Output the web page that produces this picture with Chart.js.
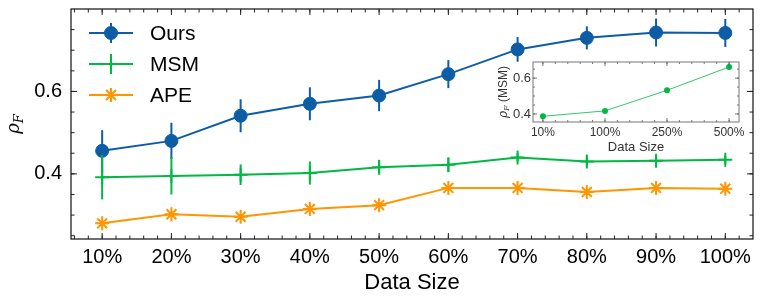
<!DOCTYPE html>
<html>
<head>
<meta charset="utf-8">
<script src="https://cdn.jsdelivr.net/npm/chart.js@4/dist/chart.umd.min.js"></script>
<style>
  html, body { margin: 0; padding: 0; background: #fff; }
  #wrap { position: relative; width: 762px; height: 299px; }
  #mainChart { position: absolute; left: 0; top: 0; }
  #insetChart { position: absolute; left: 490px; top: 58px; }
</style>
</head>
<body>
<div id="wrap">
  <canvas id="mainChart" width="762" height="299"></canvas>
  <canvas id="insetChart" width="260" height="100"></canvas>
</div>
<script>
// Datos del gráfico principal
const dataSizes = [10, 20, 30, 40, 50, 60, 70, 80, 90, 100];
const sizeLabels = ['10%', '20%', '30%', '40%', '50%', '60%', '70%', '80%', '90%', '100%'];
const oursValues = [0.456, 0.480, 0.541, 0.570, 0.590, 0.642, 0.702, 0.730, 0.743, 0.742];
const oursErrors = [0.050, 0.044, 0.040, 0.040, 0.038, 0.034, 0.030, 0.028, 0.034, 0.034];
const msmValues = [0.392, 0.395, 0.398, 0.402, 0.416, 0.422, 0.440, 0.430, 0.432, 0.434];
const msmErrors = [0.054, 0.045, 0.025, 0.028, 0.018, 0.018, 0.010, 0.012, 0.012, 0.010];
const apeValues = [0.280, 0.302, 0.296, 0.315, 0.324, 0.366, 0.366, 0.356, 0.366, 0.364];
const yTickValues = [0.4, 0.6];
const yTickLabels = ['0.4', '0.6'];

// Datos del recuadro (MSM)
const insetSizes = [0, 1, 2, 3];
const insetLabels = ['10%', '100%', '250%', '500%'];
const insetValues = [0.387, 0.417, 0.532, 0.662];
const insetErrors = [0.015, 0.012, 0.015, 0.010];
const insetYTicks = [0.4, 0.6];
const insetYLabels = ['0.4', '0.6'];

const BLUE = '#0C5DA5';
const GREEN = '#00B945';
const ORANGE = '#FF9500';
const SANS = "'Liberation Sans', Arial, sans-serif";
const SERIF = "'DejaVu Serif', serif";

Chart.defaults.font.family = SANS;
Chart.defaults.color = '#000';

// Barras de error, dibujadas justo antes de cada serie
const errorBars = {
  id: 'errorBars',
  beforeDatasetDraw(chart, args) {
    const ds = chart.data.datasets[args.index];
    if (!ds.errors) return;
    const { ctx, scales: { x, y } } = chart;
    ctx.save();
    ctx.strokeStyle = ds.borderColor;
    ctx.lineWidth = ds.errorWidth || 2;
    ds.data.forEach((p, i) => {
      const px = x.getPixelForValue(p.x);
      ctx.beginPath();
      ctx.moveTo(px, y.getPixelForValue(p.y + ds.errors[i]));
      ctx.lineTo(px, y.getPixelForValue(p.y - ds.errors[i]));
      ctx.stroke();
    });
    ctx.restore();
  }
};

// Ticks hacia dentro en los cuatro lados y marco
const inwardTicks = {
  id: 'inwardTicks',
  beforeDraw(chart, args, opts) {
    const { ctx, chartArea: a } = chart;
    ctx.save();
    ctx.fillStyle = '#fff';
    ctx.fillRect(a.left, a.top, a.width, a.height);
    ctx.restore();
  },
  afterDraw(chart, args, opts) {
    const { ctx, chartArea: a, scales: { x, y } } = chart;
    ctx.save();
    ctx.strokeStyle = opts.color;
    ctx.lineWidth = opts.tickWidth;
    const seg = (x1, y1, x2, y2) => { ctx.beginPath(); ctx.moveTo(x1, y1); ctx.lineTo(x2, y2); ctx.stroke(); };
    const xTick = (v, len) => {
      const px = x.getPixelForValue(v);
      if (px <= a.left || px >= a.right) return;
      seg(px, a.bottom, px, a.bottom - len);
      seg(px, a.top, px, a.top + len);
    };
    const yTick = (v, len) => {
      const py = y.getPixelForValue(v);
      if (py <= a.top || py >= a.bottom) return;
      seg(a.left, py, a.left + len, py);
      seg(a.right, py, a.right - len, py);
    };
    for (let v = opts.xMinor[0]; v <= x.max; v += opts.xMinor[1]) xTick(v, opts.minorLen);
    for (let v = opts.yMinor[0]; v <= y.max; v += opts.yMinor[1]) yTick(v, opts.minorLen);
    opts.xMajor.forEach(v => xTick(v, opts.majorLen));
    opts.yMajor.forEach(v => yTick(v, opts.majorLen));
    ctx.lineWidth = opts.borderWidth;
    ctx.strokeStyle = opts.borderColor;
    ctx.strokeRect(a.left, a.top, a.width, a.height);
    ctx.restore();
  }
};

// Etiqueta rho_F girada
function drawRho(ctx, cx, cy, size, suffix, color) {
  ctx.save();
  ctx.translate(cx, cy);
  ctx.rotate(-Math.PI / 2);
  ctx.fillStyle = color;
  ctx.textBaseline = 'alphabetic';
  const fRho = 'italic ' + size + 'px ' + SERIF;
  const fSub = 'italic ' + Math.round(size * 0.7) + 'px ' + SERIF;
  const fSuf = Math.round(size * 1.0) + 'px ' + SANS;
  ctx.font = fRho; const w1 = ctx.measureText('ρ').width;
  ctx.font = fSub; const w2 = ctx.measureText('F').width;
  ctx.font = fSuf; const w3 = suffix ? ctx.measureText(suffix).width : 0;
  let px = -(w1 + w2 + w3) / 2;
  const base = size * 0.3;
  ctx.font = fRho; ctx.fillText('ρ', px, base); px += w1;
  ctx.font = fSub; ctx.fillText('F', px, base + size * 0.22); px += w2;
  if (suffix) { ctx.font = fSuf; ctx.fillText(suffix, px, base); }
  ctx.restore();
}

const mainLabel = {
  id: 'mainLabel',
  afterDraw(chart) {
    const { ctx, chartArea: a } = chart;
    drawRho(ctx, 14, (a.top + a.bottom) / 2, 18, '', '#000');

    // Leyenda en la esquina superior izquierda
    const rows = [33, 64, 95];
    chart.data.datasets.forEach((ds, i) => {
      const yy = rows[i];
      ctx.save();
      ctx.strokeStyle = ds.borderColor;
      ctx.fillStyle = ds.pointBackgroundColor;
      ctx.lineWidth = 2;
      ctx.beginPath(); ctx.moveTo(89, yy); ctx.lineTo(133, yy); ctx.stroke();
      if (ds.errors) {
        ctx.beginPath(); ctx.moveTo(111, yy - 10); ctx.lineTo(111, yy + 10); ctx.stroke();
      }
      ctx.lineWidth = ds.pointBorderWidth;
      Chart.helpers.drawPoint(ctx, { pointStyle: ds.pointStyle, radius: ds.pointRadius, borderWidth: ds.pointBorderWidth, rotation: 0 }, 111, yy);
      ctx.fillStyle = '#000';
      ctx.font = '21px ' + SANS;
      ctx.textBaseline = 'middle';
      ctx.fillText(ds.label, 150, yy + 1);
      ctx.restore();
    });
  }
};

const toPoints = (xs, ys) => xs.map((v, i) => ({ x: v, y: ys[i] }));

// Quitar el relleno que Chart.js reserva para las etiquetas de los extremos
const noPad = s => { s.paddingTop = 0; s.paddingBottom = 0; s.paddingLeft = 0; s.paddingRight = 0; };

new Chart(document.getElementById('mainChart'), {
  type: 'line',
  data: {
    datasets: [
      { label: 'Ours', data: toPoints(dataSizes, oursValues), errors: oursErrors,
        borderColor: BLUE, backgroundColor: BLUE, pointBackgroundColor: BLUE, pointBorderColor: BLUE,
        borderWidth: 2, pointStyle: 'circle', pointRadius: 6.5, pointBorderWidth: 1, order: 3 },
      { label: 'MSM', data: toPoints(dataSizes, msmValues), errors: msmErrors,
        borderColor: GREEN, backgroundColor: GREEN, pointBackgroundColor: GREEN, pointBorderColor: GREEN,
        borderWidth: 2, pointStyle: 'cross', pointRadius: 7, pointBorderWidth: 2, order: 2 },
      { label: 'APE', data: toPoints(dataSizes, apeValues),
        borderColor: ORANGE, backgroundColor: ORANGE, pointBackgroundColor: ORANGE, pointBorderColor: ORANGE,
        borderWidth: 2, pointStyle: 'star', pointRadius: 7, pointBorderWidth: 2, order: 1 }
    ]
  },
  options: {
    responsive: false,
    animation: false,
    devicePixelRatio: 1,
    layout: { padding: { top: 6, right: 9, left: 0, bottom: 0 } },
    plugins: {
      legend: { display: false },
      tooltip: { enabled: false },
      inwardTicks: {
        color: '#222', tickWidth: 1, majorLen: 6, minorLen: 3.5, borderWidth: 1.3, borderColor: '#222',
        xMajor: dataSizes, xMinor: [6, 2], yMajor: yTickValues, yMinor: [0.25, 0.05]
      }
    },
    scales: {
      x: {
        type: 'linear', min: 5.5, max: 104,
        afterBuildTicks: s => { s.ticks = dataSizes.map(v => ({ value: v })); },
        afterFit: s => { s.height = 60; noPad(s); },
        grid: { display: false, drawTicks: false },
        border: { display: false },
        ticks: { autoSkip: false, maxRotation: 0, padding: 6, font: { size: 20 }, color: '#000',
          callback: (v, i) => sizeLabels[i] },
        title: { display: true, text: 'Data Size', font: { size: 22 }, color: '#000', padding: { top: 0, bottom: 3 } }
      },
      y: {
        type: 'linear', min: 0.242, max: 0.8,
        afterBuildTicks: s => { s.ticks = yTickValues.map(v => ({ value: v })); },
        afterFit: s => { s.width = 71; noPad(s); },
        grid: { display: false, drawTicks: false },
        border: { display: false },
        ticks: { padding: 9, font: { size: 20 }, color: '#000', callback: (v, i) => yTickLabels[i] }
      }
    }
  },
  plugins: [inwardTicks, errorBars, mainLabel]
});

// Recuadro con MSM para tamaños mayores
const insetLabel = {
  id: 'insetLabel',
  afterDraw(chart) {
    const { ctx, chartArea: a } = chart;
    drawRho(ctx, 13, (a.top + a.bottom) / 2, 12, ' (MSM)', '#333');
  }
};

new Chart(document.getElementById('insetChart'), {
  type: 'line',
  data: {
    datasets: [
      { label: 'MSM', data: toPoints(insetSizes, insetValues), errors: insetErrors, errorWidth: 1,
        borderColor: 'rgba(0,185,69,0.8)', pointBackgroundColor: GREEN, pointBorderColor: GREEN,
        borderWidth: 1, pointStyle: 'circle', pointRadius: 3, pointBorderWidth: 0 }
    ]
  },
  options: {
    responsive: false,
    animation: false,
    devicePixelRatio: 1,
    layout: { padding: { top: 4, right: 11, left: 0, bottom: 0 } },
    plugins: {
      legend: { display: false },
      tooltip: { enabled: false },
      inwardTicks: {
        color: '#555', tickWidth: 0.8, majorLen: 4, minorLen: 2, borderWidth: 1, borderColor: '#777',
        xMajor: insetSizes, xMinor: [-0.2, 0.2], yMajor: insetYTicks, yMinor: [0.35, 0.05]
      }
    },
    scales: {
      x: {
        type: 'linear', min: -0.16, max: 3.16,
        afterBuildTicks: s => { s.ticks = insetSizes.map(v => ({ value: v })); },
        afterFit: s => { s.height = 36; noPad(s); },
        grid: { display: false, drawTicks: false },
        border: { display: false },
        ticks: { autoSkip: false, maxRotation: 0, padding: 3, font: { size: 12 }, color: '#333',
          callback: (v, i) => insetLabels[i] },
        title: { display: true, text: 'Data Size', font: { size: 13 }, color: '#333', padding: { top: 0, bottom: 3 } }
      },
      y: {
        type: 'linear', min: 0.355, max: 0.69,
        afterBuildTicks: s => { s.ticks = insetYTicks.map(v => ({ value: v })); },
        afterFit: s => { s.width = 43; noPad(s); },
        grid: { display: false, drawTicks: false },
        border: { display: false },
        ticks: { padding: 2, font: { size: 13 }, color: '#333', callback: (v, i) => insetYLabels[i] }
      }
    }
  },
  plugins: [inwardTicks, errorBars, insetLabel]
});
</script>
</body>
</html>
